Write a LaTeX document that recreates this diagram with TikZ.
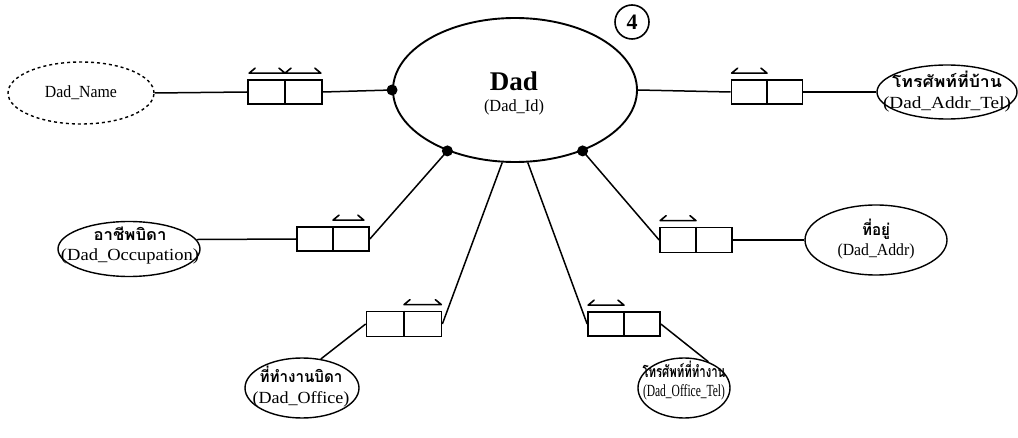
\documentclass[tikz,border=0pt]{standalone}
\usepackage{fontspec}
\setmainfont{Liberation Serif}
\newfontfamily\thai[Script=Thai]{Loma}
\usepackage{graphicx}
\usetikzlibrary{shapes.geometric,calc}
\newcommand\fitw[2]{\resizebox{#1pt}{\height}{#2}}
\newcommand\harr[2]{\draw[harp] (#1) ++(6,-5) -- (#1) -- (#2) -- ++(-6,-5);}
\begin{document}
\begin{tikzpicture}[x=1pt,y=-1pt,
  conn/.style={line width=1.5pt},
  ent/.style={ellipse, draw, line width=1.9pt, minimum width=244pt, minimum height=144pt, inner sep=0pt},
  attr/.style={ellipse, draw, line width=1.4pt, inner sep=0pt},
  kbox/.style={draw, line width=1.7pt, minimum width=72pt, minimum height=24pt, inner sep=0pt},
  kdiv/.style={line width=1.5pt},
  txt/.style={inner sep=0pt, font=\fontsize{17}{19}\selectfont},
  thtxt/.style={inner sep=0pt, font=\thai\fontsize{16}{18}\selectfont\bfseries},
  dotn/.style={circle, fill=black, minimum size=11pt, inner sep=0pt},
  harp/.style={line width=1.6pt, line cap=round, line join=round}]
\useasboundingbox (0,0) rectangle (1018,438);

% entity
\node[ent] (dad) at (515,90) {};
\node[inner sep=0pt, font=\fontsize{27}{30}\selectfont\bfseries] (dadT) at (514,81) {Dad};
\node[txt] (dadK) at (514,107) {\fitw{60}{(Dad\_Id)}};
\node[draw, circle, minimum size=34pt, inner sep=0pt, line width=1.6pt, font=\fontsize{22}{22}\selectfont\bfseries] (num) at (632,22) {4};

% dots
\node[dotn] (d1) at (dad.180) {};
\node[dotn] (d2) at (dad.222) {};
\node[dotn] (d3) at (dad.318) {};

% Dad_Name
\node[attr, dashed, minimum width=146pt, minimum height=62pt] (dn) at (81,93) {};
\node[txt] (dnT) at (81,93) {\fitw{72}{Dad\_Name}};
\node[kbox, minimum width=74pt] (b1) at (285,92) {};
\draw[kdiv] (b1.north) -- (b1.south);
\draw[conn] (dn.east) -- (b1.west);
\draw[conn] (b1.east) -- (d1.center);
\coordinate (a1) at ($(b1.north west)+(2,-6)$);
\coordinate (a2) at ($(b1.north)+(0,-6)$);
\coordinate (a3) at ($(b1.north east)+(-2,-6)$);
\harr{a1}{a2}
\harr{a2}{a3}

% Dad_Addr_Tel
\node[attr, minimum width=140pt, minimum height=54pt] (at) at (947,92) {};
\node[thtxt] (atT) at (947,79) {\fitw{110}{โทรศัพท์ที่บ้าน}};
\node[txt] (atL) at (947,104) {\fitw{128}{(Dad\_Addr\_Tel)}};
\node[kbox, minimum width=71pt] (b2) at (767,92) {};
\draw[kdiv] (b2.north) -- (b2.south);
\draw[conn] (dad.east) -- (b2.west);
\draw[conn] (b2.east) -- (at.west);
\coordinate (c1) at ($(b2.north west)+(1,-6)$);
\coordinate (c2) at ($(b2.north)+(0,-6)$);
\harr{c1}{c2}

% Dad_Occupation
\node[attr, minimum width=142pt, minimum height=55pt] (occ) at (129,249) {};
\node[thtxt] (occT) at (130,234) {\fitw{73}{อาชีพบิดา}};
\node[txt] (occL) at (130,256) {\fitw{138}{(Dad\_Occupation)}};
\node[kbox] (b3) at (333,239) {};
\draw[kdiv] (b3.north) -- (b3.south);
\draw[conn] (occ.8.6) -- (b3.west);
\draw[conn] (b3.east) -- (d2.center);
\coordinate (e1) at ($(b3.north)+(0,-6)$);
\coordinate (e2) at ($(b3.north east)+(-6,-6)$);
\harr{e1}{e2}

% Dad_Addr
\node[attr, minimum width=142pt, minimum height=70pt] (addr) at (876,240) {};
\node[thtxt] (addrT) at (876,229) {\fitw{28}{ที่อยู่}};
\node[txt] (addrL) at (876,251) {\fitw{77}{(Dad\_Addr)}};
\node[kbox, minimum height=25pt] (b4) at (696,240) {};
\draw[kdiv] (b4.north) -- (b4.south);
\draw[conn] (d3.center) -- (b4.west);
\draw[conn] (b4.east) -- (addr.west);
\coordinate (f1) at ($(b4.north west)+(1,-6)$);
\coordinate (f2) at ($(b4.north)+(0,-6)$);
\harr{f1}{f2}

% Dad_Office
\node[attr, minimum width=114pt, minimum height=60pt] (off) at (302,388) {};
\node[thtxt] (offT) at (301,374) {\fitw{83}{ที่ทำงานบิดา}};
\node[txt] (offL) at (301,399) {\fitw{97}{(Dad\_Office)}};
\node[kbox, minimum width=75pt, minimum height=25pt] (b5) at (404,324) {};
\draw[kdiv] (b5.north) -- (b5.south);
\draw[conn] (dad.260) -- (b5.east);
\draw[conn] (b5.west) -- (off.57);
\coordinate (g1) at ($(b5.north)+(0,-6)$);
\coordinate (g2) at ($(b5.north east)+(-1,-6)$);
\harr{g1}{g2}

% Dad_Office_Tel
\node[attr, minimum width=92pt, minimum height=60pt] (otel) at (684,388) {};
\node[thtxt] (otelT) at (684,369) {\fitw{83}{โทรศัพท์ที่ทำงาน}};
\node[txt] (otelL) at (684,392) {\fitw{82}{(Dad\_Office\_Tel)}};
\node[kbox] (b6) at (624,324) {};
\draw[kdiv] (b6.north) -- (b6.south);
\draw[conn] (dad.280) -- (b6.west);
\draw[conn] (b6.east) -- (otel.47);
\coordinate (h1) at ($(b6.north west)+(1,-6)$);
\coordinate (h2) at ($(b6.north)+(0,-6)$);
\harr{h1}{h2}
\end{tikzpicture}
\end{document}
